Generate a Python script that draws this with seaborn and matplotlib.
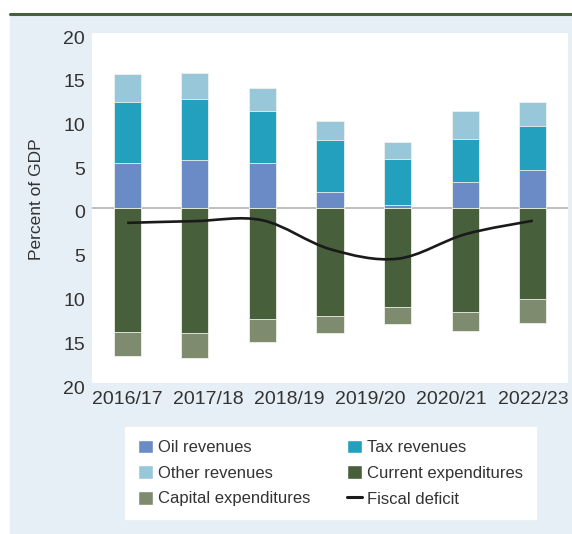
import numpy as np
import matplotlib.pyplot as plt
import seaborn as sns
from matplotlib.path import Path
from matplotlib.patches import PathPatch, Patch, Rectangle
from matplotlib.lines import Line2D
from matplotlib.transforms import ScaledTranslation

# fiscal years (bars) and the labels actually printed under the axis
years = ['2016/17', '2017/18', '2018/19', '2019/20', '2020/21', '2021/22', '2022/23']
tick_labels = ['2016/17', '2017/18', '2018/19', '2019/20', '2020/21', '2022/23']

# percent of GDP
oil = [5.2, 5.5, 5.2, 1.8, 0.4, 3.0, 4.3]
tax = [6.95, 6.9, 5.9, 6.0, 5.2, 4.9, 5.1]
other = [3.15, 3.05, 2.6, 2.1, 1.9, 3.2, 2.75]
current = [14.2, 14.3, 12.7, 12.3, 11.35, 11.9, 10.4]
capital = [2.7, 2.8, 2.6, 2.0, 1.95, 2.1, 2.7]
deficit = [1.7, 1.5, 1.4, 4.7, 5.8, 3.0, 1.45]

c_oil, c_tax, c_other = '#6b8bc7', '#22a0be', '#99c7da'
c_cur, c_cap = '#485f3c', '#7f8b6f'
panel = '#e6eff5'
txt = '#333333'

sns.set_theme(style='white')
plt.rcParams['font.family'] = ['Liberation Sans', 'DejaVu Sans']

fig = plt.figure(figsize=(5.72, 5.34), dpi=100)
fig.patches.append(Rectangle((10 / 572, 0), 1, (534 - 15) / 534, transform=fig.transFigure,
                             color=panel, zorder=-10))
fig.add_artist(Line2D([10 / 572, 1], [1 - 13.5 / 534] * 2, transform=fig.transFigure,
                      color='#45603a', lw=2.2))

ax = fig.add_axes([92 / 572, 1 - 383 / 534, (568 - 92) / 572, (383 - 33) / 534])
ax.set_facecolor('white')

oil_a, tax_a, other_a = np.array(oil), np.array(tax), np.array(other)
cur_a, cap_a = np.array(current), np.array(capital)

ax.axhline(0, color='#b4b4b4', lw=1.2, zorder=0)

# stacked bars: draw cumulative totals, tallest first
layers = [
    (oil_a + tax_a + other_a, c_other),
    (oil_a + tax_a, c_tax),
    (oil_a, c_oil),
    (-(cur_a + cap_a), c_cap),
    (-cur_a, c_cur),
]
for vals, col in layers:
    sns.barplot(x=years, y=vals, color=col, saturation=1, width=0.4, errorbar=None,
                edgecolor='#eef2ea', linewidth=0.6, ax=ax)

# smoothed fiscal deficit line (drawn below zero)
pts = np.column_stack([np.arange(len(years)), -np.array(deficit)])
ext = np.vstack([pts[0], pts, pts[-1]])
verts, codes = [tuple(pts[0])], [Path.MOVETO]
for i in range(len(pts) - 1):
    p0, p1, p2, p3 = ext[i], ext[i + 1], ext[i + 2], ext[i + 3]
    verts += [tuple(p1 + (p2 - p0) / 6), tuple(p2 - (p3 - p1) / 6), tuple(p2)]
    codes += [Path.CURVE4] * 3
ax.add_patch(PathPatch(Path(verts, codes), fill=False, color='#1a1a1a', lw=1.9, zorder=5))

ax.set_xlim(-0.52, len(years) - 0.48)
ax.set_ylim(-20, 20)
yt = np.arange(-20, 21, 5)
ax.set_yticks(yt, [str(abs(v)) for v in yt])
ax.set_xticks(np.linspace(0, len(years) - 1, len(tick_labels)), tick_labels)
ax.tick_params(axis='both', length=0, labelsize=14, colors=txt)
ax.tick_params(axis='y', pad=5)
ax.tick_params(axis='x', pad=6)
# the original's y labels sit a few pixels below their ticks
shift = ScaledTranslation(0, -0.04, fig.dpi_scale_trans)
for lab in ax.get_yticklabels():
    lab.set_transform(lab.get_transform() + shift)
for s in ax.spines.values():
    s.set_visible(False)
ax.set_xlabel('')
ax.set_ylabel('Percent of GDP', fontsize=12.5, color=txt)
ax.yaxis.set_label_coords(-0.1, 0.525)

handles = [
    Patch(facecolor=c_oil, label='Oil revenues'),
    Patch(facecolor=c_other, label='Other revenues'),
    Patch(facecolor=c_cap, label='Capital expenditures'),
    Patch(facecolor=c_tax, label='Tax revenues'),
    Patch(facecolor=c_cur, label='Current expenditures'),
    Line2D([], [], color='#1a1a1a', lw=2.2, label='Fiscal deficit'),
]
leg = fig.legend(handles=handles, ncol=2, loc='center',
                 bbox_to_anchor=(330.5 / 572, 1 - 473 / 534), fontsize=12,
                 frameon=True, fancybox=False, edgecolor='white', facecolor='white', framealpha=1,
                 handlelength=0.9, handleheight=0.9, handletextpad=0.3,
                 columnspacing=2.2, labelspacing=0.6, borderpad=0.75)
for t in leg.get_texts():
    t.set_color(txt)

fig.savefig('out.png', dpi=100)
